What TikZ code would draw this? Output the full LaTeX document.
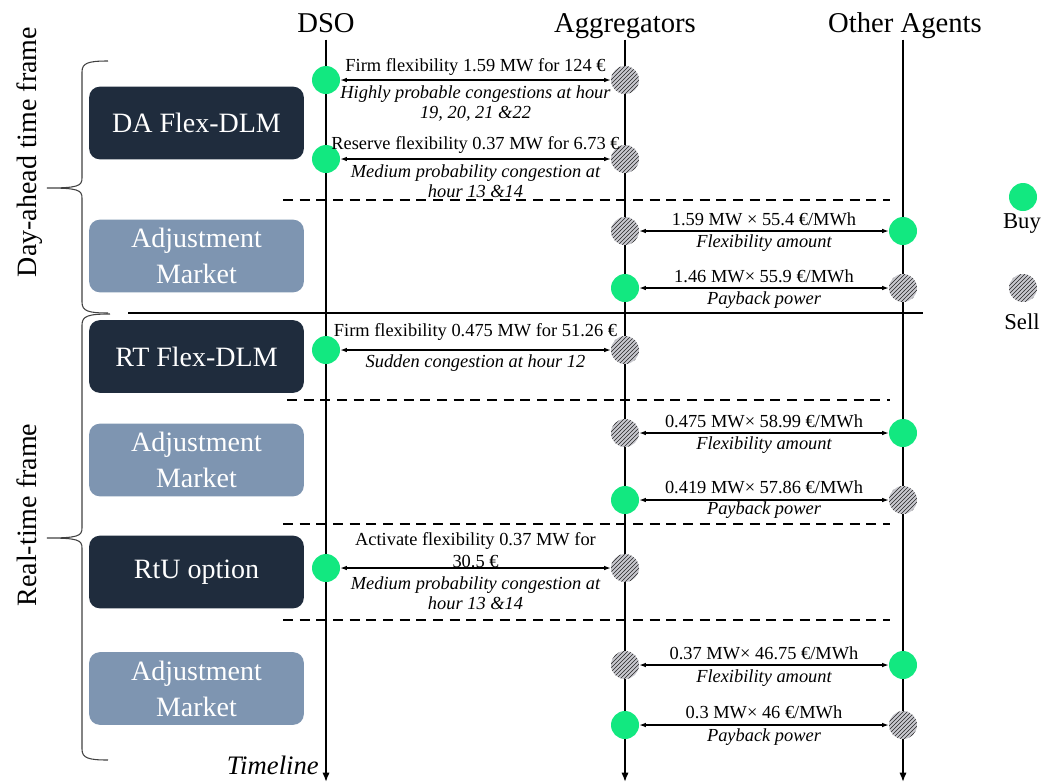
\documentclass[tikz,border=0pt]{standalone}
\usepackage{fontspec}
\setmainfont{Liberation Serif}
\usetikzlibrary{arrows.meta,patterns}
\definecolor{buygreen}{RGB}{18,232,128}
\definecolor{darkbox}{RGB}{31,44,61}
\definecolor{lightbox}{RGB}{126,149,177}
\definecolor{hatchbg}{RGB}{200,200,206}
\newcommand{\labfont}{\fontsize{13.8}{15}\selectfont}
\begin{document}
\begin{tikzpicture}[x=0.75pt,y=-0.75pt,
  buy/.style={circle, fill=buygreen, minimum size=21pt, inner sep=0pt},
  sell/.style={circle, minimum size=21pt, inner sep=0pt, preaction={fill=hatchbg}, pattern=north east lines, pattern color=black!85},
  boxdark/.style={rounded corners=8pt, fill=darkbox, text=white, minimum width=161pt, minimum height=54.5pt, font=\fontsize{21}{27}\selectfont, align=center},
  boxlight/.style={boxdark, fill=lightbox},
  header/.style={font=\fontsize{21.5}{25}\selectfont, text height=14pt, text depth=4pt, inner sep=1pt},
  vline/.style={line width=1.3pt, -{Latex[length=7pt,width=5.5pt]}},
  flow/.style={{Latex[length=5pt,width=3.5pt]}-{Latex[length=5pt,width=3.5pt]}, line width=0.9pt},
  lab/.style={font=\labfont, align=center, inner sep=0pt},
  ilab/.style={font=\labfont\itshape, align=center, inner sep=0pt},
  sep/.style={line width=1.1pt, dash pattern=on 7.5pt off 5pt},
  brace/.style={line width=0.8pt, draw=black!75},
  side/.style={font=\fontsize{21}{25}\selectfont, rotate=90},
  legend/.style={font=\fontsize{17}{20}\selectfont}
]
\useasboundingbox (0,0) rectangle (1046,783);

% headers and lifelines
\node[header] (hdso) at (326,26) {DSO};
\node[header] (hagg) at (625,26) {Aggregators};
\node[header] (hoth) at (905,26) {Other Agents};
\coordinate (edso) at (326,782);
\coordinate (eagg) at (625,782);
\coordinate (eoth) at (903,782);
\draw[vline] (hdso.south) -- (edso);
\draw[vline] (hagg.south) -- (eagg);
\draw[vline] (hoth.south -| eoth) -- (eoth);

% separators
\coordinate (s1a) at (283,200); \coordinate (s1b) at (890,200);
\coordinate (s2a) at (128,313); \coordinate (s2b) at (923,313);
\coordinate (s3a) at (287,400); \coordinate (s3b) at (890,400);
\coordinate (s4a) at (283,524); \coordinate (s4b) at (890,524);
\coordinate (s5a) at (283,620); \coordinate (s5b) at (890,620);
\draw[sep] (s1a) -- (s1b);
\draw[line width=1.1pt] (s2a) -- (s2b);
\draw[sep] (s3a) -- (s3b);
\draw[sep] (s4a) -- (s4b);
\draw[sep] (s5a) -- (s5b);

% boxes
\node[boxdark]  (b1) at (196.5,123) {DA Flex-DLM};
\node[boxlight] (b2) at (196.5,256) {Adjustment\\Market};
\node[boxdark]  (b3) at (196.5,356.5) {RT Flex-DLM};
\node[boxlight] (b4) at (196.5,460) {Adjustment\\Market};
\node[boxdark]  (b5) at (196.5,572) {RtU option};
\node[boxlight] (b6) at (196.5,688.5) {Adjustment\\Market};

% braces
\draw[brace] (108,61) .. controls (88,61) and (82,63) .. (82,72) -- (82,178)
  .. controls (82,186) and (78,188) .. (47,188)
  .. controls (78,188) and (82,190) .. (82,198) -- (82,302)
  .. controls (82,311) and (88,313) .. (108,313);
\draw[brace] (110,314) .. controls (88,314) and (82,316) .. (82,325) -- (82,528)
  .. controls (82,536) and (78,538) .. (47,538)
  .. controls (78,538) and (82,540) .. (82,548) -- (82,749)
  .. controls (82,758) and (88,760) .. (108,760);
\node[side] (lda) at (30,152) {Day-ahead time frame};
\node[side] (lrt) at (27,515) {Real-time frame};

% circles
\node[buy]  (d1) at (326,80) {};
\node[sell] (a1) at (625,80) {};
\node[buy]  (d2) at (326,159) {};
\node[sell] (a2) at (625,159) {};
\node[sell] (a3) at (625,231) {};
\node[buy]  (o3) at (903,231) {};
\node[buy]  (a4) at (625,288) {};
\node[sell] (o4) at (903,288) {};
\node[buy]  (d5) at (326,350) {};
\node[sell] (a5) at (625,350) {};
\node[sell] (a6) at (625,433) {};
\node[buy]  (o6) at (903,433) {};
\node[buy]  (a7) at (625,500) {};
\node[sell] (o7) at (903,500) {};
\node[buy]  (d8) at (326,568) {};
\node[sell] (a8) at (625,568) {};
\node[sell] (a9) at (625,665) {};
\node[buy]  (o9) at (903,665) {};
\node[buy]  (a10) at (625,725) {};
\node[sell] (o10) at (903,725) {};

% messages
\draw[flow] (d1) -- (a1)
  node[lab, midway, yshift=9.75pt] {Firm flexibility 1.59 MW for 124 €}
  node[ilab, midway, yshift=-18pt] {Highly probable congestions at hour\\19, 20, 21 \&22};
\draw[flow] (d2) -- (a2)
  node[lab, midway, yshift=10.5pt] {Reserve flexibility 0.37 MW for 6.73 €}
  node[ilab, midway, yshift=-16.5pt] {Medium probability congestion at\\hour 13 \&14};
\draw[flow] (a3) -- (o3)
  node[lab, midway, yshift=8.5pt] {1.59 MW × 55.4 €/MWh}
  node[ilab, midway, yshift=-9pt] {Flexibility amount};
\draw[flow] (a4) -- (o4)
  node[lab, midway, yshift=8.5pt] {1.46 MW× 55.9 €/MWh}
  node[ilab, midway, yshift=-9pt] {Payback power};
\draw[flow] (d5) -- (a5)
  node[lab, midway, yshift=13.5pt] {Firm flexibility 0.475 MW for 51.26 €}
  node[ilab, midway, yshift=-9.75pt] {Sudden congestion at hour 12};
\draw[flow] (a6) -- (o6)
  node[lab, midway, yshift=8.5pt] {0.475 MW× 58.99 €/MWh}
  node[ilab, midway, yshift=-9pt] {Flexibility amount};
\draw[flow] (a7) -- (o7)
  node[lab, midway, yshift=9.5pt] {0.419 MW× 57.86 €/MWh}
  node[ilab, midway, yshift=-7.5pt] {Payback power};
\draw[flow] (d8) -- (a8)
  node[lab, midway, yshift=13.5pt] {Activate flexibility 0.37 MW for\\[2pt]30.5 €}
  node[ilab, midway, yshift=-18.75pt] {Medium probability congestion at\\hour 13 \&14};
\draw[flow] (a9) -- (o9)
  node[lab, midway, yshift=9pt] {0.37 MW× 46.75 €/MWh}
  node[ilab, midway, yshift=-9.75pt] {Flexibility amount};
\draw[flow] (a10) -- (o10)
  node[lab, midway, yshift=9.5pt] {0.3 MW× 46 €/MWh}
  node[ilab, midway, yshift=-9pt] {Payback power};

% timeline
\node[font=\fontsize{20}{24}\selectfont\itshape, anchor=east, inner sep=0pt] (tl) at (319,765) {Timeline};

% legend
\node[buy]  (lbuy) at (1023,197) {};
\node[legend] (tbuy) at (1022,224) {Buy};
\node[sell] (lsell) at (1023,288) {};
\node[legend] (tsell) at (1022,322) {Sell};
\end{tikzpicture}
\end{document}
